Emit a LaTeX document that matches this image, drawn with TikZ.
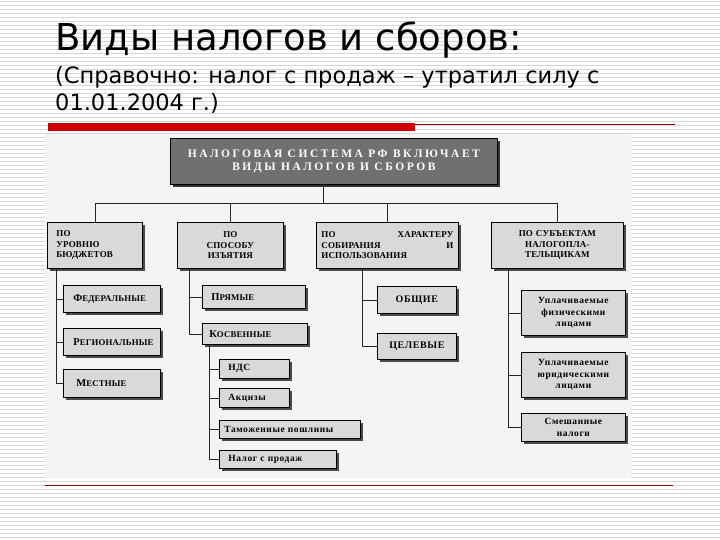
\documentclass[tikz,border=0pt]{standalone}
\usepackage{fontspec}
\setmainfont{Liberation Serif}
\newfontfamily\titlefont{DejaVu Sans}
\newfontfamily\spacedfont[LetterSpace=22]{Liberation Serif}
\newfontfamily\boxfont[LetterSpace=2]{Liberation Serif}
\newfontfamily\wideboxfont[LetterSpace=6]{Liberation Serif}
\usetikzlibrary{shadows}
\definecolor{panel}{HTML}{F4F4F4}
\definecolor{boxfill}{HTML}{D9D9D9}
\definecolor{topfill}{HTML}{707070}
\definecolor{shade}{HTML}{4A4A4A}
\definecolor{redbar}{HTML}{CC0000}
\definecolor{darkred}{HTML}{8B0000}
\definecolor{stripe}{HTML}{D6D6D6}
\newcommand\fsc[2]{{\fontsize{10.5}{10.5}\selectfont #1}{\fontsize{8.8}{8.8}\selectfont #2}}
\begin{document}
\begin{tikzpicture}[x=1pt,y=-1pt,
  box/.style={draw=black, line width=0.7pt, fill=boxfill, inner ysep=0pt,
    drop shadow={shadow xshift=2.5pt, shadow yshift=-2.5pt, fill=shade, opacity=1},
    font=\boxfont\bfseries\fontsize{8.5}{10.5}\selectfont, anchor=north west},
  hdr/.style={box, minimum height=46pt, font=\boxfont\bfseries\fontsize{9}{10.5}\selectfont},
  wide/.style={font=\wideboxfont\bfseries\fontsize{9.5}{11.5}\selectfont},
  conn/.style={draw=black!85, line width=0.7pt}
]
\useasboundingbox (0,0) rectangle (720,540);
\fill[white] (0,0) rectangle (720,540);
\foreach \k in {0,...,134} \draw[stripe, line width=1.5pt] (0,{\k*4+1.5}) -- (720,{\k*4+1.5});
% panel and rules
\fill[panel] (45,134) rectangle (631,478);
\fill[redbar] (48,123) rectangle (415,131);
\draw[darkred, line width=0.8pt] (415,124) -- (675,124);
\draw[darkred, line width=0.8pt] (45,485) -- (673,485);
% title
\node[anchor=base west, inner sep=0, font=\titlefont\fontsize{37}{37}\selectfont] (title) at (55,51) {Виды налогов и сборов:};
\node[anchor=base west, inner sep=0, font=\titlefont\fontsize{22.5}{28}\selectfont] (sub1) at (55,84) {(Справочно: налог с продаж – утратил силу с};
\node[anchor=base west, inner sep=0, font=\titlefont\fontsize{22.5}{28}\selectfont] (sub2) at (55,111) {01.01.2004 г.)};
% top box
\node[box, fill=topfill, text=white, minimum width=327pt, minimum height=46pt, align=center,
  drop shadow={shadow xshift=2.5pt, shadow yshift=-2.5pt, fill=black!80, opacity=1},
  font=\spacedfont\bfseries\fontsize{11.5}{13}\selectfont] (main) at (170,138)
  {НАЛОГОВАЯ СИСТЕМА РФ ВКЛЮЧАЕТ\\ВИДЫ НАЛОГОВ И СБОРОВ};
% level 2
\node[hdr, minimum width=95pt, inner xsep=9pt, text width=77pt, align=left] (b1) at (47,222) {ПО\\УРОВНЮ\\БЮДЖЕТОВ};
\node[hdr, minimum width=106pt, inner xsep=5pt, text width=96pt, align=center] (b2) at (177,222) {ПО\\СПОСОБУ\\ИЗЪЯТИЯ};
\node[hdr, minimum width=142pt, inner xsep=5pt, text width=132pt, align=left] (b3) at (316,222) {ПО\hfill ХАРАКТЕРУ\\СОБИРАНИЯ\hfill И\\ИСПОЛЬЗОВАНИЯ};
\node[hdr, minimum width=132pt, inner xsep=5pt, text width=122pt, align=center] (b4) at (491,222) {ПО СУБЪЕКТАМ\\НАЛОГОПЛА-\\ТЕЛЬЩИКАМ};
% connectors level 1-2
\coordinate (hub) at (323,203);
\draw[conn] (main.south -| hub) -- (hub);
\draw[conn] (b1.north |- hub) -- (b4.north |- hub);
\foreach \b in {b1,b2,b3,b4} \draw[conn] (\b.north |- hub) -- (\b.north);
% column 1
\node[box, minimum width=97pt, minimum height=27pt, inner xsep=10pt, text width=77pt, align=left] (f1) at (63,285) {\fsc{Ф}{ЕДЕРАЛЬНЫЕ}};
\node[box, minimum width=97pt, minimum height=27pt, inner xsep=10pt, text width=77pt, align=left] (f2) at (63,328) {\fsc{Р}{ЕГИОНАЛЬНЫЕ}};
\node[box, minimum width=97pt, minimum height=28pt, inner xsep=13pt, text width=71pt, align=left] (f3) at (63,369) {\fsc{М}{ЕСТНЫЕ}};
\foreach \f in {f1,f2,f3} \draw[conn] ([xshift=9pt]b1.south west) |- (\f.west);
% column 2
\node[box, minimum width=103pt, minimum height=23pt, inner xsep=9pt, text width=85pt, align=left] (p1) at (202,285) {\fsc{П}{РЯМЫЕ}};
\node[box, minimum width=105pt, minimum height=21pt, inner xsep=7pt, text width=91pt, align=left] (p2) at (202,323) {\fsc{К}{ОСВЕННЫЕ}};
\foreach \p in {p1,p2} \draw[conn] ([xshift=12pt]b2.south west) |- (\p.west);
\node[box, wide, minimum width=70pt, minimum height=19pt, inner xsep=9pt, text width=52pt, align=left] (n1) at (219,359) {НДС};
\node[box, wide, minimum width=70pt, minimum height=19pt, inner xsep=9pt, text width=52pt, align=left] (n2) at (219,388) {Акцизы};
\node[box, wide, minimum width=141pt, minimum height=18pt, inner xsep=5pt, text width=131pt, align=left] (n3) at (219,420) {Таможенные пошлины};
\node[box, wide, minimum width=117pt, minimum height=18pt, inner xsep=9pt, text width=99pt, align=left] (n4) at (219,450) {Налог с продаж};
\foreach \n in {n1,n2,n3,n4} \draw[conn] ([xshift=7pt]p2.south west) |- (\n.west);
% column 3
\node[box, wide, font=\wideboxfont\bfseries\fontsize{10}{12}\selectfont, minimum width=79pt, minimum height=27pt, inner xsep=3pt, text width=73pt, align=center] (o1) at (377,286) {ОБЩИЕ};
\node[box, wide, font=\wideboxfont\bfseries\fontsize{10}{12}\selectfont, minimum width=79pt, minimum height=26pt, inner xsep=3pt, text width=73pt, align=center] (o2) at (377,333) {ЦЕЛЕВЫЕ};
\foreach \o in {o1,o2} \draw[conn] ([xshift=46pt]b3.south west) |- (\o.west);
% column 4
\node[box, wide, minimum width=104pt, minimum height=45pt, inner xsep=3pt, text width=98pt, align=center] (u1) at (521,290) {Уплачиваемые\\физическими\\лицами};
\node[box, wide, minimum width=104pt, minimum height=45pt, inner xsep=3pt, text width=98pt, align=center] (u2) at (521,352) {Уплачиваемые\\юридическими\\лицами};
\node[box, wide, minimum width=104pt, minimum height=28pt, inner xsep=3pt, text width=98pt, align=center] (u3) at (521,413) {Смешанные\\налоги};
\foreach \u in {u1,u2,u3} \draw[conn] ([xshift=17pt]b4.south west) |- (\u.west);
\end{tikzpicture}
\end{document}
